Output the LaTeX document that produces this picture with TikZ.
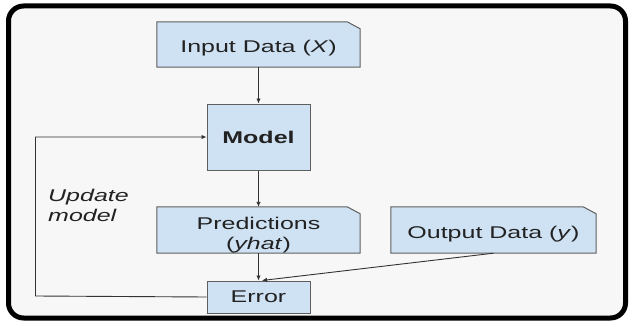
\documentclass[tikz,border=0pt]{standalone}
\usepackage{fontspec}
\setmainfont{Liberation Sans}[FakeStretch=1.47]
\usetikzlibrary{arrows.meta,backgrounds}
\pgfdeclarelayer{boxes}
\pgfsetlayers{background,boxes,main}
\definecolor{boxfill}{HTML}{CFE2F3}
\definecolor{boxline}{HTML}{5F5F5F}
\definecolor{txt}{HTML}{222222}
\definecolor{arr}{HTML}{333333}
\definecolor{panel}{HTML}{F7F7F7}
\tikzset{
  base/.style={inner sep=0pt, text=txt, align=center, font=\fontsize{17}{20}\selectfont},
  notebox/.style={base, rectangle},
  notepoly/.style={fill=boxfill, draw=boxline, line width=1pt},
  plainbox/.style={base, rectangle, fill=boxfill, draw=boxline, line width=1pt},
  conn/.style={draw=arr, line width=0.9pt, -{Latex[length=5pt,width=4.5pt]}},
  lbl/.style={text=txt, align=left, inner sep=0pt, font=\fontsize{17}{20}\selectfont\itshape}
}
\begin{document}
\begin{tikzpicture}[x=1pt,y=-1pt]
\useasboundingbox (0,0) rectangle (632,321);
\begin{pgfonlayer}{background}
\fill[white] (0,0) rectangle (632,321);
\draw[line width=5pt, fill=panel, rounded corners=15pt] (8.5,6) rectangle (625.5,318);
\end{pgfonlayer}
\node[notebox, minimum width=203pt, minimum height=45pt, text height=17.5pt, text depth=0.5pt] (inp) at (258.5,44.5) {Input Data (\textit{X})};
\node[plainbox, minimum width=103pt, minimum height=66pt] (model) at (258.5,137) {\textbf{Model}};
\node[notebox, minimum width=203pt, minimum height=46pt, text height=40pt, text depth=1.8pt] (pred) at (258.5,230) {Predictions\\(\textit{yhat})};
\node[notebox, minimum width=205pt, minimum height=46pt, text height=17.5pt, text depth=0.5pt] (out) at (493.5,230) {Output Data (\textit{y})};
\node[plainbox, minimum width=103pt, minimum height=32pt] (err) at (258.5,297) {Error};
\node[lbl, anchor=west] (upd) at (48,205) {Update\\model};
\begin{pgfonlayer}{boxes}
\foreach \n in {inp,pred,out}
  \filldraw[notepoly] (\n.south west) -- (\n.north west) -- ([xshift=-13pt]\n.north east)
    -- ([yshift=-7pt]\n.north east) -- (\n.south east) -- cycle;
\end{pgfonlayer}
\coordinate (loopb) at (35.5,296);
\coordinate (loopt) at (35.5,137);
\coordinate (hit) at (262,280.5);
\draw[conn] (inp) -- (model);
\draw[conn] (model) -- (pred);
\draw[conn] (pred) -- (err);
\draw[conn] (out.south) -- (hit);
\draw[conn] (err.west) -- (loopb) -- (loopt) -- (model.west);
\end{tikzpicture}
\end{document}
